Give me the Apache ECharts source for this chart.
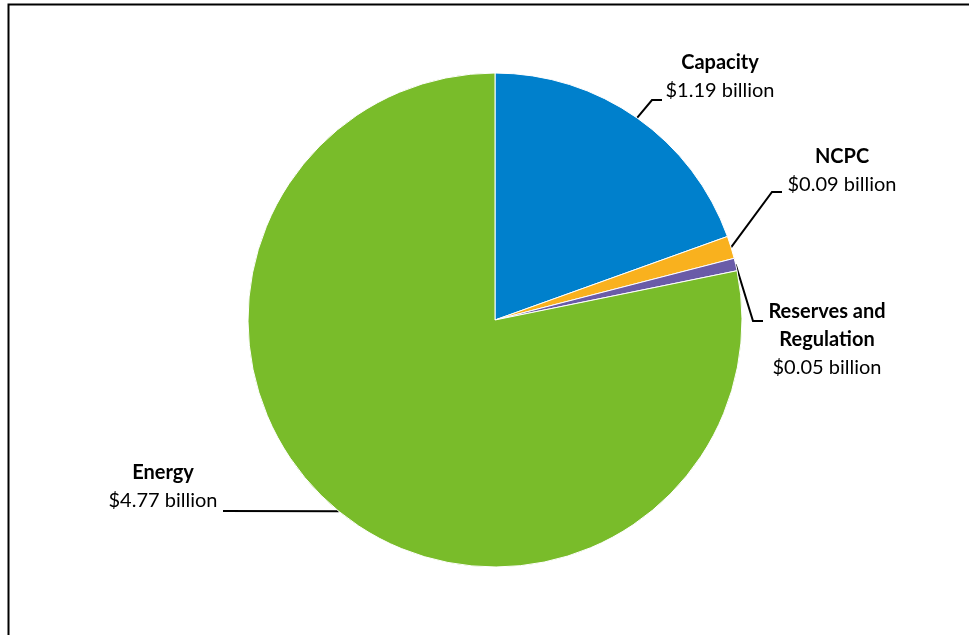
<!DOCTYPE html>
<html><head><meta charset="utf-8">
<script src="https://cdn.jsdelivr.net/npm/echarts@6/dist/echarts.min.js"></script>
<style>html,body{margin:0;padding:0;background:#fff}#c{width:969px;height:635px}</style>
</head><body><div id="c"></div>
<script>
const categories = ['Capacity', 'NCPC', 'Reserves and\nRegulation', 'Energy'];
const values = [1.19, 0.09, 0.05, 4.77];
const valueLabels = ['$1.19 billion', '$0.09 billion', '$0.05 billion', '$4.77 billion'];
const colors = ['#0080CC', '#F9B11E', '#6A5BA8', '#79BC2A'];

// label placement (layout only)
const labelPos = [
  {x: 720, y: 77, elbow: [652, 100], end: [662, 100]},
  {x: 842, y: 171, elbow: [772, 192], end: [782, 192]},
  {x: 827, y: 340, elbow: [753, 321], end: [763, 321]},
  {x: 163, y: 487, elbow: null, end: [223, 511]}
];

const chart = echarts.init(document.getElementById('c'), null, {renderer: 'canvas'});
const FONT = 'Lato';
chart.setOption({
  animation: false,
  backgroundColor: '#fff',
  graphic: [{
    type: 'rect', shape: {x: 8.5, y: 4.5, width: 1200, height: 1000},
    style: {fill: 'none', stroke: '#000', lineWidth: 2}, z: 0
  }],
  series: [{
    type: 'pie',
    center: [495, 320],
    radius: [0, 247],
    startAngle: 90,
    clockwise: true,
    avoidLabelOverlap: false,
    itemStyle: {borderColor: '#fff', borderWidth: 1},
    data: categories.map((c, i) => ({
      name: c, value: values[i], itemStyle: {color: colors[i]}
    })),
    label: {
      show: true,
      position: 'outside',
      formatter: p => '{b|' + p.name.split('\n').join('}\n{b|') + '}\n{v|' + valueLabels[p.dataIndex] + '}',
      rich: {
        b: {fontFamily: FONT, fontSize: 20, fontWeight: 'bold', color: '#000', lineHeight: 28, align: 'center'},
        v: {fontFamily: FONT, fontSize: 20, color: '#000', lineHeight: 28, align: 'center'}
      }
    },
    labelLine: {show: true, lineStyle: {color: '#000', width: 2}},
    labelLayout: function (params) {
      const lp = labelPos[params.dataIndex];
      const p0 = params.labelLinePoints ? params.labelLinePoints[0] : null;
      const pts = [];
      if (p0) pts.push([p0[0], p0[1]]);
      if (lp.elbow) pts.push(lp.elbow); else pts.push(lp.end);
      pts.push(lp.end);
      return {x: lp.x, y: lp.y, align: 'center', verticalAlign: 'middle', labelLinePoints: pts};
    }
  }]
});
</script></body></html>
